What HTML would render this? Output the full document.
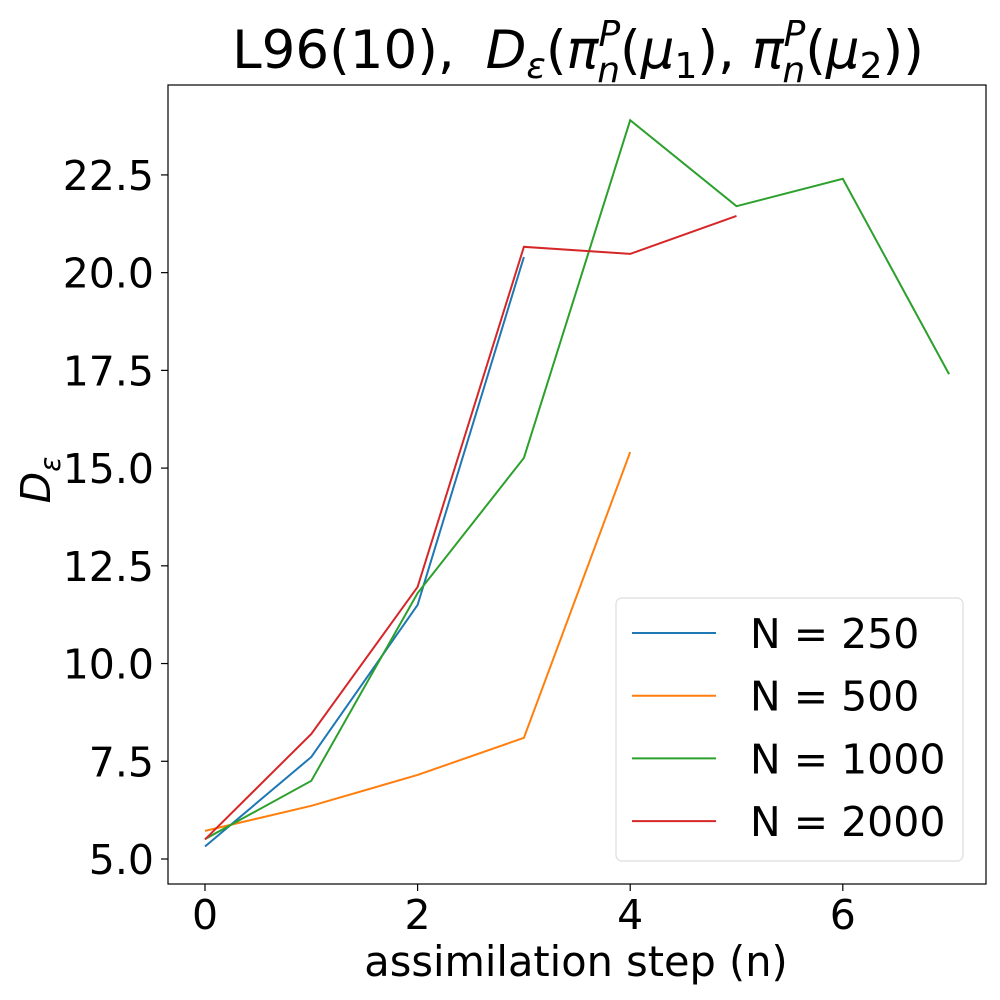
<!DOCTYPE html>
<html><head><meta charset="utf-8"><style>body{margin:0;background:#fff}svg{display:block}text{font-family:"DejaVu Sans","Liberation Sans",sans-serif;fill:#000}</style></head>
<body>
<svg id="chart" width="1000" height="1000" xmlns="http://www.w3.org/2000/svg">
<rect width="1000" height="1000" fill="#fff"/>
<text x="578" y="68" font-size="53" text-anchor="middle">L96(10),  <tspan font-style="italic" dx="14">D</tspan><tspan font-style="italic" font-size="36" dy="10">ε</tspan><tspan dy="-10">(</tspan><tspan font-style="italic">π</tspan><tspan font-style="italic" font-size="36" dy="-22">P</tspan><tspan font-style="italic" font-size="36" dx="-23" dy="36">n</tspan><tspan dy="-14">(</tspan><tspan font-style="italic">μ</tspan><tspan font-size="36" dy="10">1</tspan><tspan dy="-10">), </tspan><tspan font-style="italic">π</tspan><tspan font-style="italic" font-size="36" dy="-22">P</tspan><tspan font-style="italic" font-size="36" dx="-23" dy="36">n</tspan><tspan dy="-14">(</tspan><tspan font-style="italic">μ</tspan><tspan font-size="36" dy="10">2</tspan><tspan dy="-10">))</tspan></text>
<g id="ticks"></g>
<g id="series"></g>
<rect x="168" y="85" width="818" height="799" fill="none" stroke="#000" stroke-width="1.2"/>
<text x="576" y="976" font-size="41.5" text-anchor="middle">assimilation step (n)</text>
<text transform="translate(50,480) rotate(-90)" font-size="41" text-anchor="middle"><tspan font-style="italic">D</tspan><tspan font-style="italic" font-size="28" dy="10">ε</tspan></text>
<g id="legend"></g>
</svg>
<script>
const xTicks=[0,2,4,6];
const yTicks=[5.0,7.5,10.0,12.5,15.0,17.5,20.0,22.5];
const seriesNames=["N = 250","N = 500","N = 1000","N = 2000"];
const seriesColors=["#1f77b4","#ff7f0e","#2ca02c","#d62728"];
const s250=[5.32,7.61,11.5,20.4];
const s500=[5.72,6.36,7.15,8.1,15.41];
const s1000=[5.51,7.0,11.8,15.26,23.9,21.7,22.4,17.4];
const s2000=[5.5,8.2,11.96,20.66,20.48,21.45];
const allSeries=[s250,s500,s1000,s2000];
const NS="http://www.w3.org/2000/svg";
function xs(v){return 205+v*106.3;}
function ys(v){return 859-(v-5)*39.09;}
function mk(t,a,p){const e=document.createElementNS(NS,t);for(const k in a)e.setAttribute(k,a[k]);p.appendChild(e);return e;}
const tg=document.getElementById('ticks');
xTicks.forEach(v=>{
 const l=mk('line',{x1:xs(v),x2:xs(v),y1:884,y2:891,stroke:'#000','stroke-width':1.2},tg);
 
 
 const t=mk('text',{x:xs(v),y:929,'font-size':41,'text-anchor':'middle'},tg);t.textContent=v;
 
 
});
yTicks.forEach(v=>{
 const l=mk('line',{x1:161,x2:168,y1:ys(v),y2:ys(v),stroke:'#000','stroke-width':1.2},tg);
 
 
 const t=mk('text',{x:154,y:ys(v)+15,'font-size':41,'text-anchor':'end'},tg);t.textContent=v.toFixed(1);
 
 
});
const sg=document.getElementById('series');
allSeries.forEach((d,i)=>{
 const p=mk('polyline',{points:d.map((v,j)=>xs(j)+','+ys(v)).join(' '),fill:'none',stroke:seriesColors[i],'stroke-width':2},sg);
 
 
});
const lg=document.getElementById('legend');
const box=mk('rect',{x:616,y:598,width:347,height:263,rx:6,fill:'#fff',stroke:'#ddd','stroke-width':1.2},lg);


seriesNames.forEach((n,i)=>{
 const y=633+i*62.7;
 const l=mk('line',{x1:632,x2:716,y1:y,y2:y,stroke:seriesColors[i],'stroke-width':2},lg);
 
 
 const t=mk('text',{x:750,y:y+15,'font-size':41},lg);t.textContent=n;
 
 
});
</script>
</body></html>
